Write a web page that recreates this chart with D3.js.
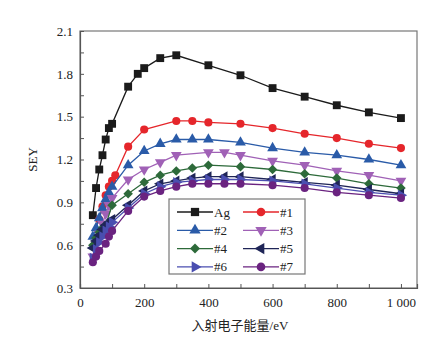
<!DOCTYPE html>
<html>
<head>
<meta charset="utf-8">
<script src="https://cdn.jsdelivr.net/npm/d3@7"></script>
<style>
  body { margin: 0; background: #fff; }
  text { font-family: "Liberation Serif", "Noto Sans CJK SC", serif; fill: #222; }
</style>
</head>
<body>
<div id="vis"></div>
<script>
// series names and energies (eV) / SEY
var seriesNames = ['Ag', '#1', '#2', '#3', '#4', '#5', '#6', '#7'];

var agX  = [40, 50, 60, 70, 80, 90, 100, 150, 180, 200, 250, 300, 400, 500, 600, 700, 800, 900, 1000];
var agY  = [0.81, 1.00, 1.13, 1.23, 1.34, 1.42, 1.45, 1.71, 1.80, 1.84, 1.91, 1.93, 1.86, 1.79, 1.70, 1.64, 1.58, 1.53, 1.49];

var s1X  = [60, 70, 80, 90, 100, 110, 150, 200, 300, 350, 400, 500, 600, 700, 800, 900, 1000];
var s1Y  = [0.78, 0.87, 0.95, 1.01, 1.05, 1.09, 1.29, 1.41, 1.47, 1.47, 1.46, 1.45, 1.42, 1.38, 1.35, 1.31, 1.28];

var s2X  = [40, 50, 60, 70, 80, 90, 100, 150, 200, 250, 300, 350, 400, 500, 600, 700, 800, 900, 1000];
var s2Y  = [0.66, 0.72, 0.79, 0.86, 0.92, 0.97, 1.01, 1.16, 1.26, 1.31, 1.34, 1.34, 1.34, 1.32, 1.28, 1.25, 1.23, 1.20, 1.16];

var s3X  = [40, 50, 60, 70, 80, 90, 100, 150, 200, 250, 300, 400, 450, 500, 600, 700, 800, 900, 1000];
var s3Y  = [0.52, 0.60, 0.68, 0.75, 0.82, 0.88, 0.93, 1.06, 1.13, 1.18, 1.23, 1.25, 1.25, 1.23, 1.19, 1.16, 1.12, 1.09, 1.05];

var s4X  = [40, 50, 60, 70, 80, 100, 150, 200, 250, 300, 350, 400, 500, 600, 700, 800, 900, 1000];
var s4Y  = [0.60, 0.65, 0.69, 0.72, 0.74, 0.88, 0.96, 1.04, 1.09, 1.12, 1.14, 1.16, 1.15, 1.13, 1.10, 1.07, 1.03, 1.00];

var s5X  = [40, 50, 60, 70, 80, 90, 100, 150, 200, 250, 300, 350, 400, 450, 500, 600, 700, 800, 900, 1000];
var s5Y  = [0.58, 0.63, 0.67, 0.71, 0.74, 0.76, 0.78, 0.88, 0.98, 1.03, 1.05, 1.07, 1.08, 1.08, 1.08, 1.06, 1.04, 1.02, 0.99, 0.96];

var s6X  = [40, 50, 60, 70, 80, 90, 100, 150, 200, 250, 300, 350, 400, 450, 500, 600, 700, 800, 900, 1000];
var s6Y  = [0.51, 0.57, 0.62, 0.66, 0.70, 0.73, 0.76, 0.86, 0.96, 1.01, 1.04, 1.05, 1.06, 1.06, 1.06, 1.05, 1.03, 1.00, 0.97, 0.95];

var s7X  = [40, 50, 60, 80, 90, 100, 150, 200, 250, 300, 350, 400, 450, 500, 600, 700, 800, 900, 1000];
var s7Y  = [0.48, 0.52, 0.56, 0.61, 0.66, 0.70, 0.84, 0.94, 0.98, 1.01, 1.03, 1.03, 1.03, 1.03, 1.02, 1.00, 0.97, 0.95, 0.93];

var xTicks = [0, 200, 400, 600, 800, 1000];
var yTicks = [0.3, 0.6, 0.9, 1.2, 1.5, 1.8, 2.1];

var allX = [agX, s1X, s2X, s3X, s4X, s5X, s6X, s7X];
var allY = [agY, s1Y, s2Y, s3Y, s4Y, s5Y, s6Y, s7Y];

var colors  = ['#1b1b1b', '#e5262b', '#2a5ba8', '#a061b6', '#2d6a3a', '#1f2557', '#4a4eb0', '#6a2380'];
var symbols = [d3.symbolSquare, d3.symbolCircle, d3.symbolTriangle, d3.symbolTriangle,
               d3.symbolDiamond2, d3.symbolTriangle, d3.symbolTriangle, d3.symbolCircle];
var rotations = [0, 0, 0, 180, 0, -90, 90, 0];
var sizes = [62, 52, 50, 50, 58, 50, 50, 52];

var margin = {left: 80, top: 31, right: 26, bottom: 55};
var width = 443, height = 343;
var drawWidth = width - margin.left - margin.right,
    drawHeight = height - margin.top - margin.bottom;

var svg = d3.select('#vis').append('svg')
    .attr('width', width)
    .attr('height', height);

var g = svg.append('g')
    .attr('transform', `translate(${margin.left},${margin.top})`);

var xScale = d3.scaleLinear().domain([0, 1050]).range([0, drawWidth]);
var yScale = d3.scaleLinear().domain([0.3, 2.1]).range([drawHeight, 0]);

// frame
g.append('rect')
    .attr('width', drawWidth)
    .attr('height', drawHeight)
    .attr('fill', 'none')
    .attr('stroke', '#777')
    .attr('stroke-width', 1.2);

// axes, ticks pointing inward
var fmtX = (d) => d >= 1000 ? '1 000' : d;
var xAxis = d3.axisBottom(xScale)
    .tickValues(d3.range(0, 1001, 100))
    .tickSize(-4)
    .tickFormat((d) => xTicks.includes(d) ? fmtX(d) : '');
var yAxis = d3.axisLeft(yScale)
    .tickValues(d3.range(0, 13).map((i) => +(0.3 + i * 0.15).toFixed(2)))
    .tickSize(-4)
    .tickFormat((d) => yTicks.some((t) => Math.abs(t - d) < 1e-6) ? d.toFixed(1) : '');

var gx = g.append('g')
    .attr('transform', `translate(0,${drawHeight})`)
    .call(xAxis);
var gy = g.append('g').call(yAxis);

[gx, gy].forEach(function(a) {
    a.select('.domain').attr('stroke', '#555').attr('stroke-width', 1.2);
    a.selectAll('.tick line').attr('stroke', '#555');
    a.selectAll('.tick text')
     .attr('font-family', '"Liberation Serif", serif')
     .attr('font-size', 13)
     .attr('fill', '#222');
});
gx.selectAll('.tick text').attr('dy', '1.25em');
gy.selectAll('.tick text').attr('dx', '-0.3em');

// axis titles
svg.append('text')
    .attr('transform', `translate(37,${margin.top + drawHeight / 2}) rotate(-90)`)
    .attr('text-anchor', 'middle')
    .attr('font-size', 13)
    .text('SEY');

svg.append('text')
    .attr('x', 240)
    .attr('y', 330)
    .attr('text-anchor', 'middle')
    .attr('font-size', 13)
    .text('入射电子能量/eV');

// series
var line = d3.line().x((d) => xScale(d[0])).y((d) => yScale(d[1]));

seriesNames.forEach(function(name, i) {
    var pts = allX[i].map((x, j) => [x, allY[i][j]]);
    var sg = g.append('g');
    sg.append('path')
      .datum(pts)
      .attr('d', line)
      .attr('fill', 'none')
      .attr('stroke', colors[i])
      .attr('stroke-width', 1.3);
    sg.selectAll('path.pt')
      .data(pts)
      .enter()
      .append('path')
      .attr('class', 'pt')
      .attr('d', d3.symbol().type(symbols[i]).size(sizes[i]))
      .attr('transform', (d) => `translate(${xScale(d[0])},${yScale(d[1])}) rotate(${rotations[i]})`)
      .attr('fill', colors[i]);
});

// legend
var legend = svg.append('g').attr('transform', 'translate(169,199)');
legend.append('rect')
    .attr('width', 136)
    .attr('height', 75)
    .attr('fill', '#fff')
    .attr('stroke', '#777')
    .attr('stroke-width', 1.2);

seriesNames.forEach(function(name, i) {
    var col = i % 2, row = Math.floor(i / 2);
    var lx = 8 + col * 66, ly = 13 + row * 18.3;
    var item = legend.append('g').attr('transform', `translate(${lx},${ly})`);
    item.append('line')
        .attr('x1', 0).attr('x2', 36)
        .attr('stroke', colors[i])
        .attr('stroke-width', 1.3);
    item.append('path')
        .attr('d', d3.symbol().type(symbols[i]).size(sizes[i] + 6))
        .attr('transform', `translate(18,0) rotate(${rotations[i]})`)
        .attr('fill', colors[i]);
    item.append('text')
        .attr('x', 37)
        .attr('dy', '0.35em')
        .attr('font-size', 13)
        .text(name);
});
</script>
</body>
</html>
